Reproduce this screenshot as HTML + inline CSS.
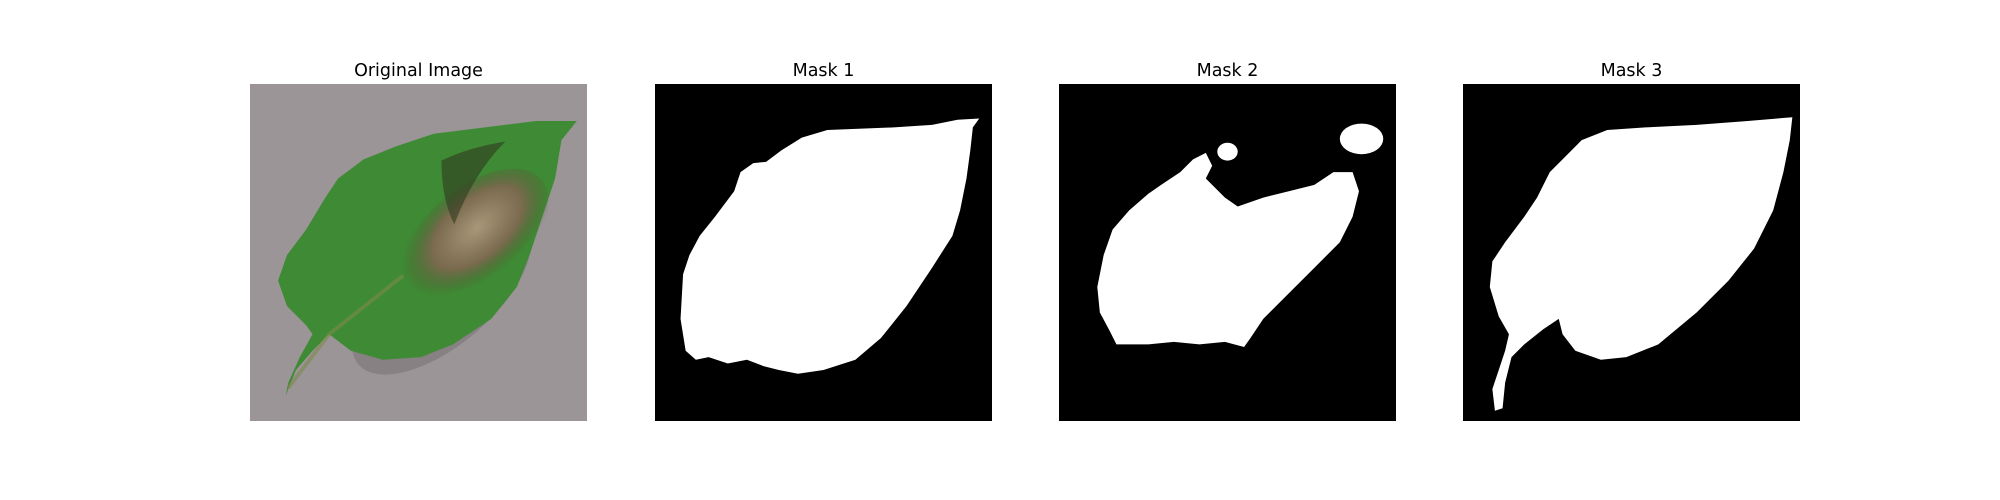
<!DOCTYPE html>
<html><head><meta charset="utf-8"><style>
body{margin:0;width:2000px;height:500px;background:#fff;position:relative;overflow:hidden;font-family:"DejaVu Sans","Liberation Sans",sans-serif}
.t{position:absolute;top:61px;width:337px;text-align:center;font-size:17.5px;color:#000}
svg{position:absolute;top:84px;width:337px;height:337px}
</style></head><body>
<div class="t" style="left:250px">Original Image</div>
<div class="t" style="left:655px">Mask 1</div>
<div class="t" style="left:1059px">Mask 2</div>
<div class="t" style="left:1463px">Mask 3</div>

<svg style="left:250px" viewBox="0 0 264 264" preserveAspectRatio="none">
<defs>
<radialGradient id="br" cx="0.55" cy="0.45" r="0.5"><stop offset="0" stop-color="#a89778"/><stop offset="0.6" stop-color="#7a6a4e"/><stop offset="1" stop-color="#4a5a30" stop-opacity="0"/></radialGradient>
</defs>
<rect width="264" height="264" fill="#9b9598"/>
<ellipse cx="150" cy="165" rx="85" ry="40" transform="rotate(-40 150 165)" fill="#6a6466" opacity="0.4"/>
<polygon fill="#3f8a34" points="256,29 244,44 239,74 229,104 219,134 209,159 189,184 159,204 134,214 104,216 79,209 62,196 49,209 36,224 28,244 30,234 39,214 49,196 44,189 29,174 22,154 29,134 44,114 59,89 69,74 89,59 114,49 144,39 184,34 224,29"/>
<ellipse cx="175" cy="120" rx="70" ry="38" transform="rotate(-40 175 120)" fill="url(#br)"/>
<path d="M150 60 Q170 50 200 45 Q175 70 160 110 Q150 90 150 60Z" fill="#2e3a20" opacity="0.6"/>
<polyline points="30,238 62,196 120,150" fill="none" stroke="#7b8a4a" stroke-width="3" opacity="0.6"/>
</svg>

<svg style="left:655px" viewBox="0 0 264 264" preserveAspectRatio="none">
<rect width="264" height="264" fill="#000"/>
<polygon fill="#fff" points="254,27 249,34 247,52 244,74 239,99 233,119 217,144 197,174 177,199 157,216 132,224 112,227 97,224 85,221 72,216 57,219 42,214 32,216 24,209 20,184 22,149 27,134 35,119 47,104 62,84 67,69 77,62 87,61 99,52 115,42 135,36 162,35 187,34 217,32 237,28"/>
</svg>

<svg style="left:1059px" viewBox="0 0 264 264" preserveAspectRatio="none">
<rect width="264" height="264" fill="#000"/>
<polygon fill="#fff" points="230,69 235,84 230,104 220,124 200,144 180,164 160,184 150,199 145,206 130,202 110,204 90,202 70,204 45,204 40,194 32,179 30,159 35,134 42,114 55,99 70,86 80,79 95,69 105,59 115,54 120,64 115,74 130,89 140,96 160,89 180,84 200,79 215,69"/>
<ellipse cx="237" cy="43" rx="17" ry="12" fill="#fff"/>
<ellipse cx="132" cy="53" rx="8" ry="7" fill="#fff"/>
</svg>

<svg style="left:1463px" viewBox="0 0 264 264" preserveAspectRatio="none">
<rect width="264" height="264" fill="#000"/>
<polygon fill="#fff" points="258,26 256,44 251,69 243,99 228,129 208,154 183,179 153,204 128,214 108,216 88,209 78,196 75,184 63,192 48,204 38,214 33,234 31,254 25,256 23,239 28,224 33,209 36,196 28,182 21,159 23,139 33,124 48,104 58,89 68,69 78,59 93,44 113,36 143,34 183,32 223,29"/>
</svg>
</body></html>
